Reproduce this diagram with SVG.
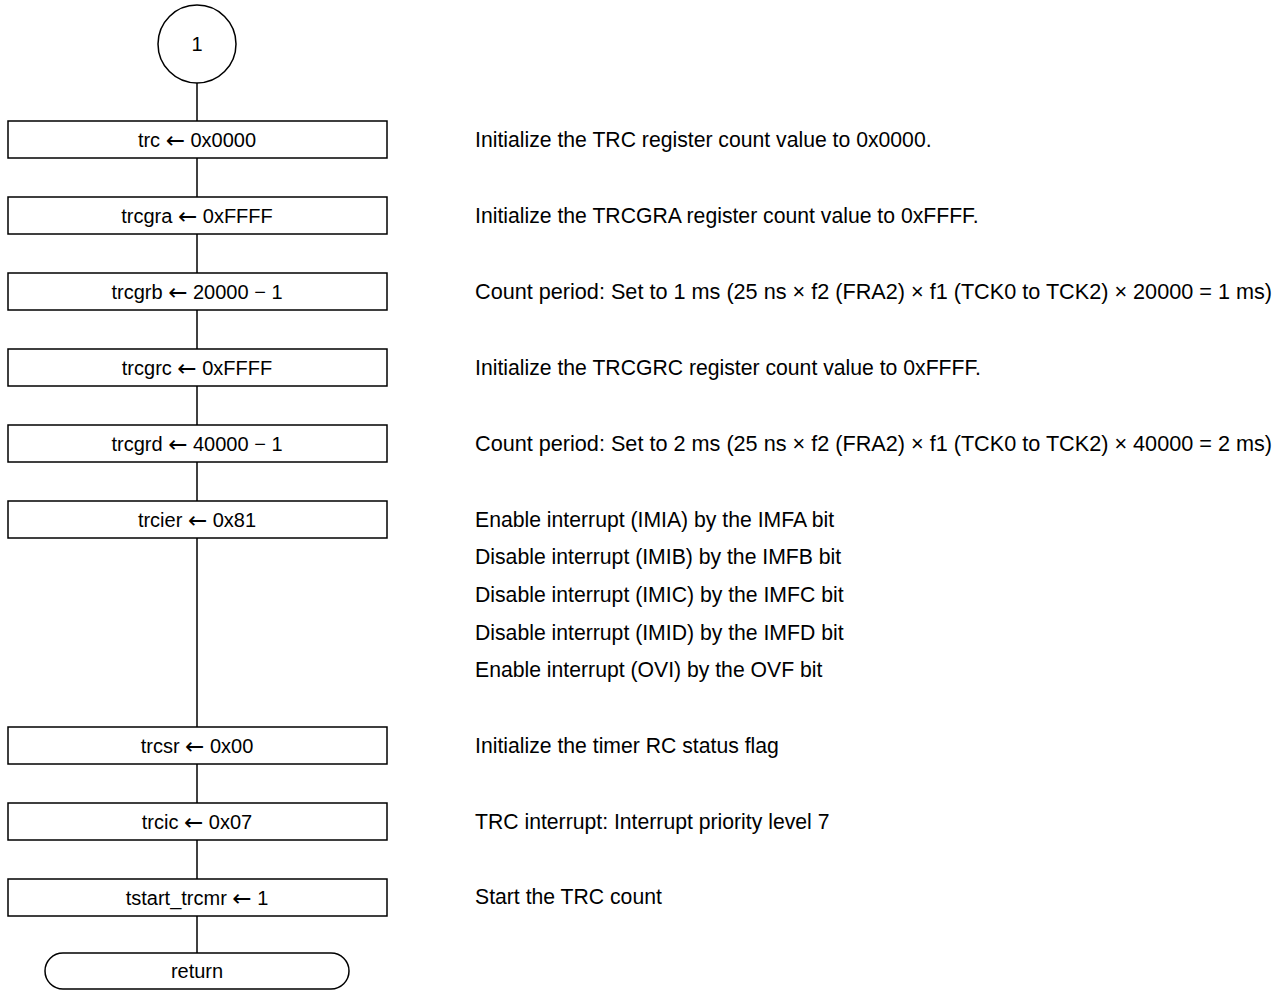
<svg xmlns="http://www.w3.org/2000/svg" width="1286" height="990" viewBox="0 0 1286 990">
<style>
.b{fill:#fff;stroke:#000;stroke-width:1.5}
.c{fill:none;stroke:#000;stroke-width:1.5}
.t{font-family:"Liberation Sans",Arial,sans-serif;font-size:20px;fill:#000;text-anchor:middle;dominant-baseline:central}
.n{font-family:"Liberation Sans",Arial,sans-serif;font-size:21.2px;fill:#000;dominant-baseline:central}
.a{font-family:"DejaVu Sans",sans-serif;font-size:23px}
</style>
<rect width="1286" height="990" fill="#fff"/>
<g id="connectors">
<line class="c" x1="197" y1="83" x2="197" y2="953"/>
</g>
<g id="start"><circle class="b" cx="197" cy="44" r="39"/><text class="t" x="197" y="44">1</text></g>
<g id="n1"><rect class="b" x="8" y="121" width="379" height="37"/><text class="t" x="197" y="139.5">trc <tspan class="a">←</tspan> 0x0000</text></g>
<g id="n2"><rect class="b" x="8" y="197" width="379" height="37"/><text class="t" x="197" y="215.5">trcgra <tspan class="a">←</tspan> 0xFFFF</text></g>
<g id="n3"><rect class="b" x="8" y="273" width="379" height="37"/><text class="t" x="197" y="291.5">trcgrb <tspan class="a">←</tspan> 20000 − 1</text></g>
<g id="n4"><rect class="b" x="8" y="349" width="379" height="37"/><text class="t" x="197" y="367.5">trcgrc <tspan class="a">←</tspan> 0xFFFF</text></g>
<g id="n5"><rect class="b" x="8" y="425" width="379" height="37"/><text class="t" x="197" y="443.5">trcgrd <tspan class="a">←</tspan> 40000 − 1</text></g>
<g id="n6"><rect class="b" x="8" y="501" width="379" height="37"/><text class="t" x="197" y="519.5">trcier <tspan class="a">←</tspan> 0x81</text></g>
<g id="n7"><rect class="b" x="8" y="727" width="379" height="37"/><text class="t" x="197" y="745.5">trcsr <tspan class="a">←</tspan> 0x00</text></g>
<g id="n8"><rect class="b" x="8" y="803" width="379" height="37"/><text class="t" x="197" y="821.5">trcic <tspan class="a">←</tspan> 0x07</text></g>
<g id="n9"><rect class="b" x="8" y="879" width="379" height="37"/><text class="t" x="197" y="897.5">tstart_trcmr <tspan class="a">←</tspan> 1</text></g>
<g id="end"><rect class="b" x="45" y="953" width="304" height="36" rx="18" ry="18"/><text class="t" x="197" y="971">return</text></g>
<g id="notes">
<text class="n" x="475" y="139.5">Initialize the TRC register count value to 0x0000.</text>
<text class="n" x="475" y="215.5">Initialize the TRCGRA register count value to 0xFFFF.</text>
<text class="n" x="475" y="291.5" textLength="797" lengthAdjust="spacingAndGlyphs">Count period: Set to 1 ms (25 ns × f2 (FRA2) × f1 (TCK0 to TCK2) × 20000 = 1 ms)</text>
<text class="n" x="475" y="367.5">Initialize the TRCGRC register count value to 0xFFFF.</text>
<text class="n" x="475" y="443.5" textLength="797" lengthAdjust="spacingAndGlyphs">Count period: Set to 2 ms (25 ns × f2 (FRA2) × f1 (TCK0 to TCK2) × 40000 = 2 ms)</text>
<text class="n" x="475" y="519.5">Enable interrupt (IMIA) by the IMFA bit</text>
<text class="n" x="475" y="556">Disable interrupt (IMIB) by the IMFB bit</text>
<text class="n" x="475" y="594">Disable interrupt (IMIC) by the IMFC bit</text>
<text class="n" x="475" y="632">Disable interrupt (IMID) by the IMFD bit</text>
<text class="n" x="475" y="669.5">Enable interrupt (OVI) by the OVF bit</text>
<text class="n" x="475" y="745.5">Initialize the timer RC status flag</text>
<text class="n" x="475" y="821.5">TRC interrupt: Interrupt priority level 7</text>
<text class="n" x="475" y="896.5">Start the TRC count</text>
</g>
</svg>
